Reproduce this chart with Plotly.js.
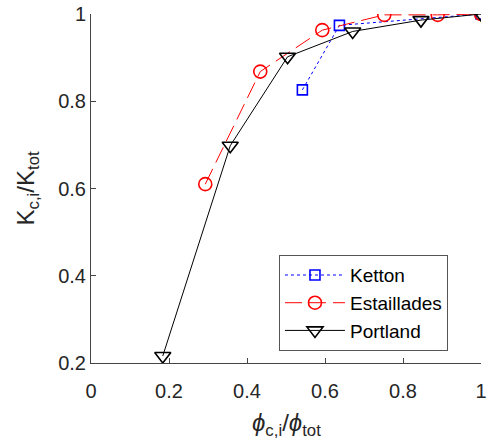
<!DOCTYPE html>
<html>
<head>
<meta charset="utf-8">
<script src="https://cdn.plot.ly/plotly-3.0.1.min.js"></script>
<style>html,body{margin:0;padding:0;background:#fff;}#plot{width:489px;height:441px;}</style>
</head>
<body>
<div id="plot"></div>
<script>
const kettonX = [0.542, 0.637, 1.0];
const kettonY = [0.826, 0.974, 1.0];
const estX = [0.293, 0.434, 0.593, 0.752, 0.889, 1.0];
const estY = [0.610, 0.868, 0.963, 0.998, 0.998, 1.0];
const portX = [0.184, 0.357, 0.504, 0.671, 0.846, 1.0];
const portY = [0.216, 0.698, 0.902, 0.960, 0.986, 1.0];
const xTicks = [0, 0.2, 0.4, 0.6, 0.8, 1];
const xTickText = ['0', '0.2', '0.4', '0.6', '0.8', '1'];
const yTicks = [0.2, 0.4, 0.6, 0.8, 1];
const yTickText = ['0.2', '0.4', '0.6', '0.8', '1'];
const xTitle = '<i>ϕ</i><sub>c,i</sub>/<i>ϕ</i><sub>tot</sub>';
const yTitle = 'K<sub>c,i</sub>/K<sub>tot</sub>';

const font = 'Liberation Sans, Arial, sans-serif';
const traces = [
  {x: kettonX, y: kettonY, name: 'Ketton', mode: 'lines+markers', type: 'scatter',
   line: {color: '#0000ff', width: 1, dash: 'dot'},
   marker: {symbol: 'square-open', size: 10, color: '#0000ff', line: {width: 1.6, color: '#0000ff'}}},
  {x: estX, y: estY, name: 'Estaillades', mode: 'lines+markers', type: 'scatter',
   line: {color: '#ff0000', width: 1, dash: '17px,7px'},
   marker: {symbol: 'circle-open', size: 13, color: '#ff0000', line: {width: 1.6, color: '#ff0000'}}},
  {x: portX, y: portY, name: 'Portland', mode: 'lines+markers', type: 'scatter',
   line: {color: '#000000', width: 1},
   marker: {symbol: 'triangle-down-open', size: 14, color: '#000000', line: {width: 1.6, color: '#000000'}}}
];
const layout = {
  width: 489, height: 441,
  margin: {l: 91, r: 8, t: 14, b: 78},
  paper_bgcolor: '#fff', plot_bgcolor: '#fff',
  font: {family: font, size: 20, color: '#262626'},
  showlegend: true,
  legend: {x: 0.482, y: 0.309, xanchor: 'left', yanchor: 'top',
    bgcolor: '#fff', bordercolor: '#555', borderwidth: 1,
    font: {family: font, size: 19, color: '#000'}, itemwidth: 60, tracegroupgap: 0},
  xaxis: {range: [0, 1], tickvals: xTicks, ticktext: xTickText, ticks: 'inside', ticklen: 5,
    tickcolor: '#444', showline: true, linecolor: '#444', linewidth: 1, mirror: false,
    showgrid: false, zeroline: false, tickfont: {size: 20, color: '#262626'}, ticklabelstandoff: 10},
  yaxis: {range: [0.2, 1], tickvals: yTicks, ticktext: yTickText, ticks: 'inside', ticklen: 5,
    tickcolor: '#444', showline: true, linecolor: '#444', linewidth: 1, mirror: false,
    showgrid: false, zeroline: false, tickfont: {size: 20, color: '#262626'}},
  annotations: [
    {text: xTitle, xref: 'paper', yref: 'paper', x: 0.5, y: 0, xanchor: 'center', yanchor: 'middle',
     yshift: -61, showarrow: false, font: {family: font, size: 24, color: '#262626'}},
    {text: yTitle, xref: 'paper', yref: 'paper', x: 0, y: 0.5, xanchor: 'center', yanchor: 'middle',
     xshift: -64, textangle: -90, showarrow: false, font: {family: font, size: 24, color: '#262626'}}
  ]
};
Plotly.newPlot('plot', traces, layout, {displayModeBar: false, staticPlot: true});
</script>
</body>
</html>
